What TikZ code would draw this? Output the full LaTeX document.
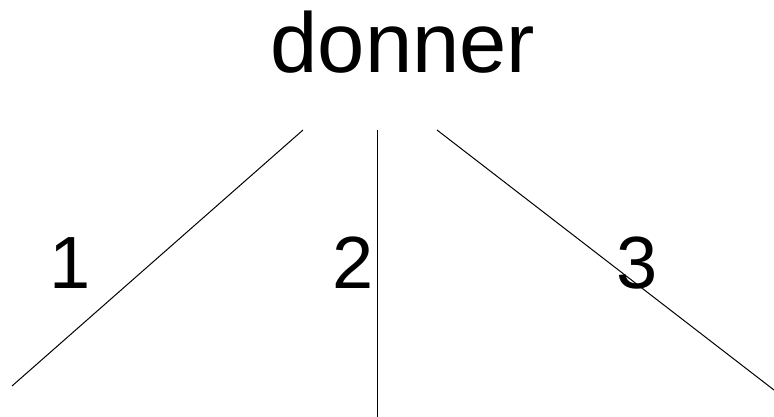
\documentclass[tikz,border=0pt]{standalone}
\usepackage{fontspec}
\setmainfont{Liberation Sans}
\usepackage{tikz}
\usetikzlibrary{positioning}

\begin{document}
\begin{tikzpicture}[
    x=1pt, y=-1pt,
    word/.style={font=\fontsize{85}{90}\selectfont, anchor=base, inner sep=0pt},
    num/.style={font=\fontsize{74}{80}\selectfont, anchor=base, inner sep=0pt},
    branch/.style={line width=1pt, black},
]
\useasboundingbox (0,0) rectangle (774,417);

\node[word] (root) at (403,73) {donner};

% ends of the three branches
\coordinate (top1) at (303,130);
\coordinate (end1) at (12,386);
\coordinate (top2) at (377,130);
\coordinate (end2) at (377,417);
\coordinate (top3) at (437,130);
\coordinate (end3) at (774,390);

\draw[branch] (top1) -- (end1);
\draw[branch] (top2) -- (end2);
\draw[branch] (top3) -- (end3);

\node[num] (n1) at (70,288) {1};
\node[num] (n2) at (353,288) {2};
\node[num] (n3) at (637,288) {3};
\end{tikzpicture}
\end{document}
